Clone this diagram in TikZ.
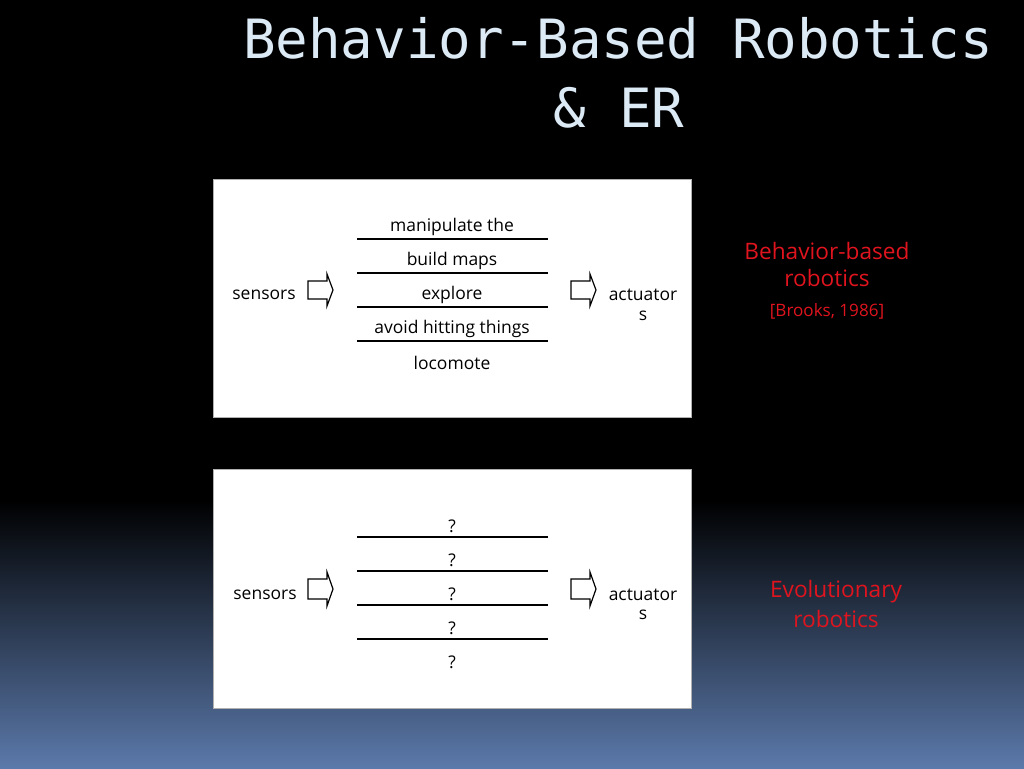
\documentclass[tikz,border=0pt]{standalone}
\usepackage{fontspec}
\setmainfont{Open Sans}
\newfontfamily\titlefont{DejaVu Sans Mono}
\definecolor{titlecol}{HTML}{DCEAF6}
\definecolor{redtxt}{HTML}{E0141E}
\definecolor{bgbottom}{HTML}{5B79AA}
\definecolor{boxedge}{HTML}{B0B0B0}
\begin{document}
\begin{tikzpicture}[x=0.75pt,y=-0.75pt,
  panel/.style={draw=boxedge,line width=0.6pt,fill=white},
  body/.style={font=\fontsize{13.1}{15}\selectfont,text=black,inner sep=0pt,anchor=center,yshift=-1.5pt},
  redlab/.style={font=\fontsize{17}{20}\selectfont,text=redtxt,inner sep=0pt,anchor=center,align=center},
  layerline/.style={line width=1.1pt,black},
  fatarrow/.style={draw=black,line width=0.9pt,fill=white,line join=miter}]
\useasboundingbox (0,0) rectangle (1024,768);
% background
\fill[black] (0,0) rectangle (1024,501);
\shade[top color=black,bottom color=bgbottom] (0,500) rectangle (1024,768);
% title
\node[font=\titlefont\fontsize{40.6}{52}\selectfont,text=titlecol,align=center,inner sep=0pt,anchor=base] (title) at (618,58) {Behavior-Based Robotics};
\node[font=\titlefont\fontsize{40.6}{52}\selectfont,text=titlecol,inner sep=0pt,anchor=base] (title2) at (619,127) {\& ER};
% panels
\node[panel,minimum width=478*0.75pt,minimum height=238*0.75pt,inner sep=0pt] (p1) at (452,298) {};
\node[panel,minimum width=478*0.75pt,minimum height=239*0.75pt,inner sep=0pt] (p2) at (452,588.5) {};
% top panel layers
\foreach \t/\y [count=\i] in {manipulate the/225,build maps/259,explore/293,avoid hitting things/327,locomote/361}
  \node[body] (a\i) at (452,\y) {\t};
\foreach \y [count=\i] in {239,273,307,341}
  {\coordinate (al\i) at (357,\y); \coordinate (ar\i) at (548,\y);
   \draw[layerline] (al\i) -- (ar\i);}
\node[body] (s1) at (264,293) {sensors};
\node[body] (act1) at (643,293) {actuator};
\node[body] (act1b) at (643,314) {s};
% arrows top
\draw[fatarrow] (308,281) -- (327,281) -- (327,274) -- (333,290) -- (327,306) -- (327,299) -- (308,299) -- cycle;
\draw[fatarrow] (571,281) -- (590,281) -- (590,274) -- (596,290) -- (590,306) -- (590,299) -- (571,299) -- cycle;
% bottom panel
\foreach \y [count=\i] in {524,558,592,626,660}
  \node[body] (q\i) at (452,\y) {?};
\foreach \y [count=\i] in {537,571,605,639}
  {\coordinate (bl\i) at (357,\y); \coordinate (br\i) at (548,\y);
   \draw[layerline] (bl\i) -- (br\i);}
\node[body] (s2) at (265,593) {sensors};
\node[body] (act2) at (643,593) {actuator};
\node[body] (act2b) at (643,613) {s};
\draw[fatarrow] (308,579) -- (327,579) -- (327,572) -- (333,589) -- (327,606) -- (327,599) -- (308,599) -- cycle;
\draw[fatarrow] (571,579) -- (590,579) -- (590,572) -- (596,589) -- (590,606) -- (590,599) -- (571,599) -- cycle;
% red labels
\node[redlab] (bb1) at (827,251) {Behavior-based};
\node[redlab] (bb2) at (827,278) {robotics};
\node[redlab,font=\fontsize{12.8}{15}\selectfont] (brooks) at (827,311) {[Brooks, 1986]};
\node[redlab] (er1) at (836,592) {Evolutionary};
\node[redlab] (er2) at (836,619) {robotics};
\end{tikzpicture}
\end{document}
